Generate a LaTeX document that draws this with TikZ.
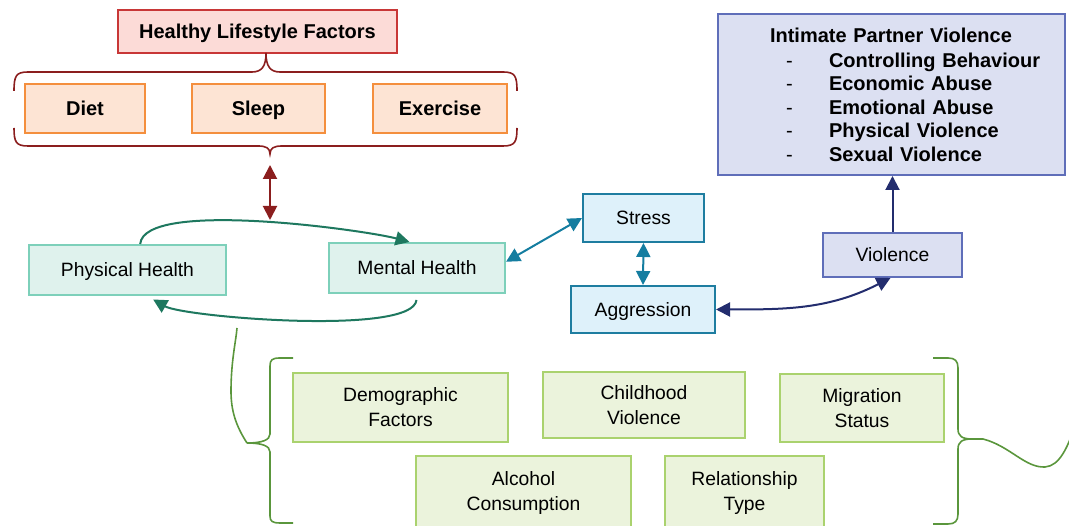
\documentclass[tikz,border=0pt]{standalone}
\usepackage{fontspec}
\setmainfont{Liberation Sans}
\usetikzlibrary{arrows.meta}
\definecolor{lifefill}{RGB}{252,219,215}
\definecolor{lifeline}{RGB}{200,55,55}
\definecolor{habitfill}{RGB}{253,228,212}
\definecolor{habitline}{RGB}{244,143,62}
\definecolor{bracered}{RGB}{139,30,30}
\definecolor{healthfill}{RGB}{223,242,237}
\definecolor{healthline}{RGB}{125,208,186}
\definecolor{healtharrow}{RGB}{30,120,95}
\definecolor{stressfill}{RGB}{222,241,250}
\definecolor{stressline}{RGB}{30,125,160}
\definecolor{stressarrow}{RGB}{20,125,160}
\definecolor{violfill}{RGB}{220,224,242}
\definecolor{violline}{RGB}{95,110,185}
\definecolor{violarrow}{RGB}{35,45,110}
\definecolor{riskfill}{RGB}{235,243,220}
\definecolor{riskline}{RGB}{170,210,110}
\definecolor{bracegreen}{RGB}{90,150,60}
\begin{document}
\begin{tikzpicture}[x=1pt,y=1pt,
    font=\fontsize{19.3}{25}\selectfont,
    >={Triangle[length=14pt,width=14pt]},
    box/.style={draw,line width=2pt,inner sep=0pt,align=center},
    oneline/.style={text height=16pt,text depth=2pt},
    lifebox/.style={box,oneline,draw=lifeline,fill=lifefill,font=\fontsize{20}{25}\selectfont\bfseries},
    habitbox/.style={box,oneline,draw=habitline,fill=habitfill,font=\fontsize{20}{25}\selectfont\bfseries,
      minimum height=49},
    healthbox/.style={box,oneline,draw=healthline,fill=healthfill,minimum height=50},
    stressbox/.style={box,oneline,draw=stressline,fill=stressfill},
    violbox/.style={box,draw=violline,fill=violfill},
    riskbox/.style={box,draw=riskline,fill=riskfill}]
  \useasboundingbox (0,0) rectangle (1069,526);
  \node[lifebox, minimum width=279, minimum height=43] (hlf) at (257.5,494.5) {Healthy Lifestyle Factors};
  \node[habitbox, minimum width=120] (diet) at (85,417.5) {Diet};
  \node[habitbox, minimum width=133] (sleep) at (258.5,417.5) {Sleep};
  \node[habitbox, minimum width=134] (exer) at (440,417.5) {Exercise};
  \node[healthbox, minimum width=197] (ph) at (127.5,256) {Physical Health};
  \node[healthbox, minimum width=176] (mh) at (417,258) {Mental Health};
  \node[stressbox, minimum width=121, minimum height=48] (stress) at (643.5,308) {Stress};
  \node[stressbox, minimum width=144, minimum height=47] (aggr) at (643,216.5) {Aggression};
  \node[violbox, oneline, minimum width=139, minimum height=44] (viol) at (892.5,271) {Violence};
  \node[violbox, minimum width=347, minimum height=161, text width=347, align=left,
    font=\fontsize{20}{23.5}\selectfont\bfseries] (ipv) at (891.5,431.5)
    {\hspace*{52pt}Intimate Partner Violence\\[1.5pt]
     \hspace*{68pt}\makebox[43pt][l]{\mdseries -}Controlling Behaviour\\
     \hspace*{68pt}\makebox[43pt][l]{\mdseries -}Economic Abuse\\
     \hspace*{68pt}\makebox[43pt][l]{\mdseries -}Emotional Abuse\\
     \hspace*{68pt}\makebox[43pt][l]{\mdseries -}Physical Violence\\
     \hspace*{68pt}\makebox[43pt][l]{\mdseries -}Sexual Violence};
  \node[riskbox, minimum width=215, minimum height=69] (demo) at (400.5,118.5) {Demographic\\Factors};
  \node[riskbox, minimum width=202, minimum height=66] (child) at (644,121) {Childhood\\Violence};
  \node[riskbox, minimum width=164, minimum height=68] (migr) at (862,118) {Migration\\Status};
  \node[riskbox, minimum width=215, minimum height=74] (alc) at (523.5,33) {Alcohol\\Consumption};
  \node[riskbox, minimum width=159, minimum height=74] (rel) at (744.5,33) {Relationship\\Type};
  \coordinate (lsb) at (270,361);
  \coordinate (arctop) at (270,306);
  \begin{scope}[line width=1.6pt,bracered]
    \draw (14,435) .. controls (14,450) and (16,454) .. (28,454) -- (252,454)
      .. controls (262,454) and (266,460) .. (266,473) .. controls (266,460) and (270,454) .. (280,454)
      -- (503,454) .. controls (515,454) and (517,450) .. (517,435);
    \draw (14,398) .. controls (14,384) and (16,380) .. (28,380) -- (258,380)
      .. controls (266,380) and (270,378) .. (270,372) .. controls (270,378) and (274,380) .. (282,380)
      -- (503,380) .. controls (515,380) and (517,384) .. (517,398);
    \draw[<->,line width=2pt] (lsb) -- (arctop);
  \end{scope}
  \begin{scope}[line width=1.6pt,bracegreen]
    \draw (293,168) -- (280,168) .. controls (272,168) and (270,166) .. (270,160) -- (270,92)
      .. controls (270,86) and (262,83) .. (247,83) .. controls (262,83) and (270,80) .. (270,74)
      -- (270,10) .. controls (270,5) and (272,3) .. (280,3) -- (293,3);
    \draw (247,83) .. controls (236,100) and (231,115) .. (231,135) .. controls (231,165) and (236,185) .. (237,198);
    \draw (933,168) -- (948,168) .. controls (955,168) and (958,165) .. (958,158) -- (958,97)
      .. controls (958,90) and (962,87) .. (972,87) .. controls (962,87) and (958,84) .. (958,77)
      -- (958,12) .. controls (958,5) and (955,2) .. (948,2) -- (933,2);
    \draw (972,87) -- (983,87) .. controls (1010,80) and (1025,58) .. (1045,59)
      .. controls (1060,60) and (1068,80) .. (1075,100);
  \end{scope}
  \begin{scope}[line width=2pt]
    \draw[->,healtharrow] (ph.64) to[out=85,in=165,looseness=0.43] (mh.106);
    \draw[->,healtharrow,shorten <=6pt,shorten >=7pt] (mh.south) to[out=-95,in=-30,looseness=0.4] (ph.-53);
    \draw[<->,stressarrow] (mh.4) to (stress.west);
    \draw[<->,stressarrow] (stress.south) to (aggr.north);
    \draw[<->,violarrow] (aggr.east) to[out=0,in=207] (viol.-95);
    \draw[->,violarrow] (viol.north) to (viol.north |- ipv.south);
  \end{scope}
\end{tikzpicture}
\end{document}
